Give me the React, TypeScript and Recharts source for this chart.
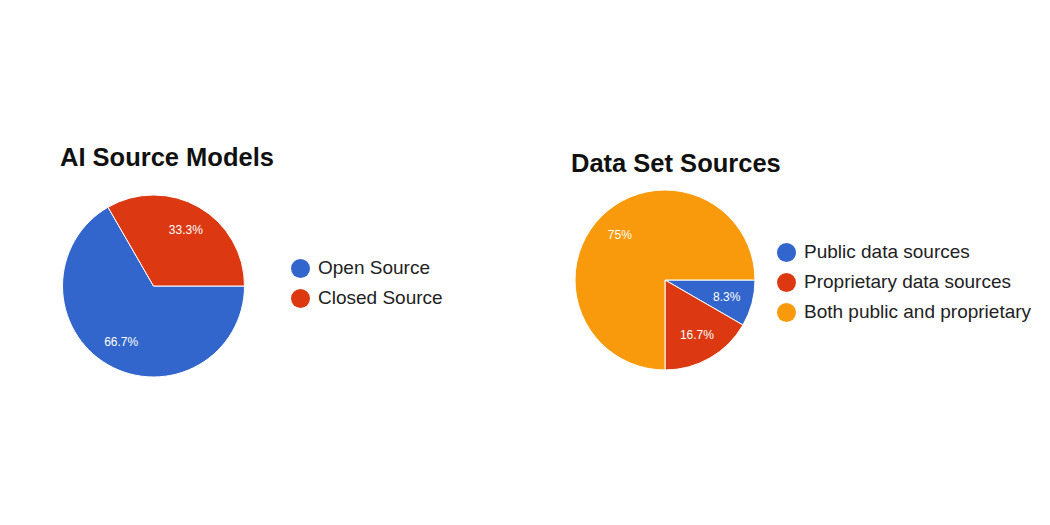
import React from "react";
import { Cell, Legend, Pie, PieChart } from "recharts";

const modelNames = ["Open Source", "Closed Source"];
const modelCounts = [2, 1];
const modelColors = ["#3366cc", "#dc3912"];

const datasetNames = [
  "Public data sources",
  "Proprietary data sources",
  "Both public and proprietary",
];
const datasetCounts = [1, 2, 9];
const datasetColors = ["#3366cc", "#dc3912", "#f89a0c"];

const FONT = "'Liberation Sans', Arial, sans-serif";
const RAD = Math.PI / 180;

function fmtPct(p: number) {
  const s = (p * 100).toFixed(1);
  return (s.endsWith(".0") ? s.slice(0, -2) : s) + "%";
}

function renderLabel(props: any) {
  const { cx, cy, midAngle, outerRadius, percent } = props;
  const r = outerRadius * 0.71;
  const x = cx + r * Math.cos(-midAngle * RAD);
  const y = cy + r * Math.sin(-midAngle * RAD);
  return (
    <text
      x={x}
      y={y}
      fill="#ffffff"
      fontSize={12}
      fontFamily={FONT}
      textAnchor="middle"
      dominantBaseline="central"
    >
      {fmtPct(percent)}
    </text>
  );
}

function LegendList({ payload, order }: any) {
  // keep the data order, recharts sorts legend items by value otherwise
  const items = [...(payload || [])].sort(
    (a: any, b: any) => order.indexOf(a.value) - order.indexOf(b.value)
  );
  return (
    <div style={{ fontFamily: FONT }}>
      {items.map((item: any) => (
        <div
          key={item.value}
          style={{ display: "flex", alignItems: "center", height: 30 }}
        >
          <span
            style={{
              width: 19,
              height: 19,
              borderRadius: "50%",
              background: item.color,
              marginRight: 8,
              flexShrink: 0,
            }}
          />
          <span style={{ fontSize: 19, color: "#222222", whiteSpace: "nowrap" }}>
            {item.value}
          </span>
        </div>
      ))}
    </div>
  );
}

function SourcePie({
  names,
  counts,
  colors,
  cx,
  cy,
  radius,
  legendLeft,
  legendTop,
}: {
  names: string[];
  counts: number[];
  colors: string[];
  cx: number;
  cy: number;
  radius: number;
  legendLeft: number;
  legendTop: number;
}) {
  const data = names.map((name, i) => ({ name, value: counts[i], fill: colors[i] }));
  return (
    <PieChart width={525} height={525} margin={{ top: 0, right: 0, bottom: 0, left: 0 }}>
      <Pie
        data={data}
        dataKey="value"
        nameKey="name"
        cx={cx}
        cy={cy}
        outerRadius={radius}
        startAngle={0}
        endAngle={-360}
        stroke="#ffffff"
        strokeWidth={1}
        label={renderLabel}
        labelLine={false}
        isAnimationActive={false}
      >
        {data.map((d) => (
          <Cell key={d.name} fill={d.fill} />
        ))}
      </Pie>
      <Legend
        layout="vertical"
        content={<LegendList order={names} />}
        wrapperStyle={{ left: legendLeft, top: legendTop, width: "auto" }}
      />
    </PieChart>
  );
}

export default function App() {
  const titleStyle: React.CSSProperties = {
    position: "absolute",
    fontFamily: FONT,
    fontWeight: 700,
    fontSize: 25.5,
    lineHeight: "25px",
    color: "#111111",
    whiteSpace: "nowrap",
  };
  return (
    <div
      style={{
        position: "absolute",
        left: 0,
        top: 0,
        width: 1050,
        height: 525,
        background: "#ffffff",
        overflow: "hidden",
      }}
    >
      <div style={{ position: "absolute", left: 0, top: 0 }}>
        <SourcePie
          names={modelNames}
          counts={modelCounts}
          colors={modelColors}
          cx={153.5}
          cy={286}
          radius={91}
          legendLeft={291}
          legendTop={253}
        />
      </div>
      <div style={{ position: "absolute", left: 525, top: 0 }}>
        <SourcePie
          names={datasetNames}
          counts={datasetCounts}
          colors={datasetColors}
          cx={140}
          cy={280}
          radius={90}
          legendLeft={252}
          legendTop={237}
        />
      </div>
      <div style={{ ...titleStyle, left: 60, top: 145 }}>AI Source Models</div>
      <div style={{ ...titleStyle, left: 571, top: 151 }}>Data Set Sources</div>
    </div>
  );
}
